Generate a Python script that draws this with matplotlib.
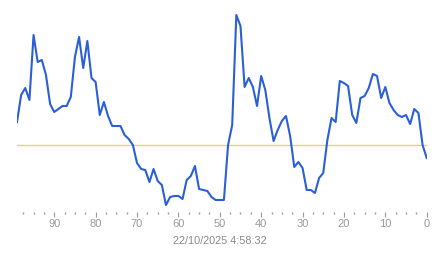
import matplotlib
matplotlib.use("Agg")
import matplotlib.pyplot as plt
from matplotlib.ticker import MultipleLocator

# x positions (age index, reversed axis) and values
ages = list(range(99, -1, -1))
values = [
    23, 50, 57, 45, 110, 83, 85, 70, 41, 33,      # 99..90
    36, 39, 39, 48, 88, 108, 77, 104, 67, 63,     # 89..80
    30, 43, 29, 19, 19, 19, 10, 6, 0, -18,        # 79..70
    -24, -25, -37, -24, -36, -40, -60, -52, -51, -51,  # 69..60
    -54, -35, -31, -21, -44, -45, -46, -52, -55, -55,  # 59..50
    -55, 0, 20, 130, 119, 58, 67, 58, 39, 69,     # 49..40
    55, 27, 4, 15, 24, 29, 9, -22, -17, -23,      # 39..30
    -45, -45, -48, -33, -28, 5, 27, 23, 64, 62,   # 29..20
    59, 30, 22, 47, 49, 57, 71, 69, 47, 58,       # 19..10
    42, 35, 30, 28, 30, 21, 36, 32, 0, -13,       # 9..0
]
baseline = 0

xticks_major = [90, 80, 70, 60, 50, 40, 30, 20, 10, 0]
timestamp = "22/10/2025 4:58:32"

W, H = 443, 258
fig = plt.figure(figsize=(W / 100, H / 100), dpi=100)
left_px, right_px, top_px, bottom_px = 17.0, 426.7, 10.0, 211.5
ax = fig.add_axes([left_px / W, 1 - bottom_px / H,
                   (right_px - left_px) / W, (bottom_px - top_px) / H])

ax.plot(ages, values, color="#2a5fd8", lw=1.5, solid_joinstyle="round")
ax.axhline(baseline, color="#f2d06e", lw=1.0, zorder=1)

ax.set_xlim(99, 0)
ax.set_ylim(-66.5, 135)
for s in ax.spines.values():
    s.set_visible(False)
ax.set_yticks([])
ax.xaxis.set_major_locator(MultipleLocator(10))
ax.xaxis.set_minor_locator(MultipleLocator(2.5))
ax.set_xticks(xticks_major)
ax.set_xticklabels([str(t) for t in xticks_major])
ax.tick_params(axis="x", which="major", length=3.6, width=0.8, color="#9a9a9a",
               labelcolor="#9a9a9a", labelsize=8, pad=1.5)
ax.tick_params(axis="x", which="minor", length=1.2, width=1.0, color="#9a9a9a")
for lab in ax.get_xticklabels():
    lab.set_family(["Liberation Sans", "DejaVu Sans"])

fig.text(220 / W, 1 - 240.7 / H, timestamp, ha="center", va="center",
         fontsize=7.8, color="#8a8a8a", family=["Liberation Sans", "DejaVu Sans"])

fig.savefig("out.png", dpi=100)
